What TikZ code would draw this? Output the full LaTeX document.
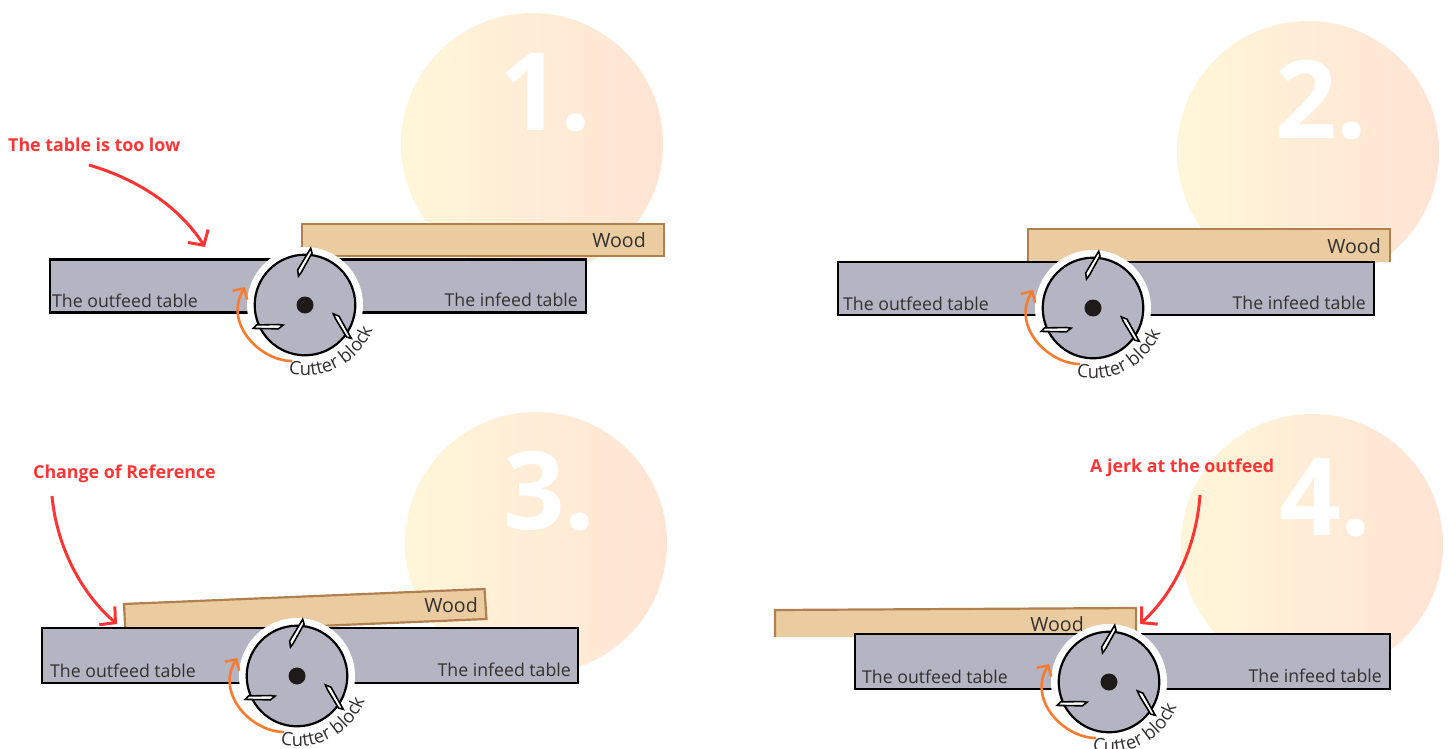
\documentclass[tikz,border=0pt]{standalone}
\usepackage{fontspec}
\setmainfont{Open Sans}
\usetikzlibrary{arrows.meta,decorations.text}
\definecolor{tablefill}{HTML}{B5B4C3}
\definecolor{woodfill}{HTML}{EBCCA0}
\definecolor{woodedge}{HTML}{B27F51}
\definecolor{alertred}{HTML}{FF3535}
\definecolor{rotorange}{HTML}{F97B2E}
\definecolor{inktext}{HTML}{333030}
\definecolor{hubdark}{HTML}{1E1A18}
\definecolor{glowa}{HTML}{FFF6D9}
\definecolor{glowb}{HTML}{FFE4D4}
\tikzset{
  x=1pt,y=-1pt,
  glow/.style={left color=glowa,right color=glowb,draw=none},
  numeral/.style={text=white,font=\fontsize{108}{108}\selectfont\bfseries,inner sep=0,anchor=base west},
  tablebox/.style={fill=tablefill,draw=black,line width=2.8pt},
  woodfillonly/.style={fill=woodfill,draw=none},
  woodline/.style={draw=woodedge,line width=2.2pt,line join=miter},
  tablelabel/.style={text=inktext,font=\fontsize{17.7}{17.7}\selectfont,inner sep=0},
  woodlabel/.style={text=inktext,font=\fontsize{19.6}{19.6}\selectfont,inner sep=0,anchor=base east},
  alertlabel/.style={text=alertred,font=\fontsize{17.8}{17.8}\selectfont\bfseries,inner sep=0},
  alertarrow/.style={draw=alertred,line width=3pt,-{Straight Barb[length=11pt,width=24pt,line width=3pt]}},
  rotarrow/.style={draw=rotorange,line width=2.6pt,-{Straight Barb[length=8pt,width=17pt,line width=2.4pt]}},
  bladeshape/.style={fill=white,draw=black,line width=1.6pt,line join=miter},
}
\newcommand{\cutterblock}[3]{%
  \begin{scope}[shift={(#2,#3)}]
    \fill[white] (0,0) circle[radius=58];
    \draw[fill=tablefill,draw=black,line width=2.2pt] (0,0) circle[radius=50.3];
    \fill[hubdark] (0,0) circle[radius=8.5];
    \foreach \r in {0,120,240}{
      \draw[bladeshape,rotate=\r] (5.7,-56.7) -- (7,-52) -- (-3.5,-33) -- (-6.5,-29) -- (-7.3,-35) -- cycle;
    }
    \coordinate (#1rs) at (-13,56);
    \coordinate (#1re) at (-60,-18);
    \draw[rotarrow] (#1rs) .. controls (-45,56) and (-82,18) .. (#1re);
    \path[decorate,decoration={text along path,text align=left,
        text={|\fontsize{18.4}{18.4}\selectfont\color{inktext}|Cutter block}}]
      (-16.6,68.5) .. controls (20.9,77.1) and (57.3,56.2) .. (69,20.5);
  \end{scope}}
\begin{document}
\begin{tikzpicture}
\useasboundingbox (0,0) rectangle (1451,749);
\fill[white] (0,0) rectangle (1451,749);
% glow discs
\shade[glow] (532,144) circle[radius=131];
\shade[glow] (1308,152) circle[radius=131];
\shade[glow] (536,543) circle[radius=131];
\shade[glow] (1312,545) circle[radius=131];
\node[numeral] (n1) at (499,131) {1.};
\node[numeral] (n2) at (1275,139) {2.};
\node[numeral] (n3) at (503,529) {3.};
\node[numeral] (n4) at (1279,535) {4.};
% panel 1
\filldraw[woodline,fill=woodfill] (302,224) rectangle (664,256);
\draw[tablebox] (50,259.5) rectangle (586,312.5);
\cutterblock{c1}{305}{305}
\node[woodlabel] (w1) at (646,247) {Wood};
\node[tablelabel,anchor=base west] (o1) at (52,307) {The outfeed table};
\node[tablelabel,anchor=base east] (i1) at (578,306) {The infeed table};
\node[alertlabel,anchor=base west] (a1) at (8,151) {The table is too low};
\coordinate (a1s) at (89,165);
\coordinate (a1e) at (205,247);
\draw[alertarrow] (a1s) .. controls (140,180) and (180,208) .. (a1e);
% panel 2
\fill[woodfillonly] (1028,229) rectangle (1390,262);
\draw[woodline] (1028,262) -- (1028,229) -- (1390,229) -- (1390,262);
\draw[tablebox] (838,262) rectangle (1374,315);
\cutterblock{c2}{1093}{308}
\node[woodlabel] (w2) at (1381,253) {Wood};
\node[tablelabel,anchor=base west] (o2) at (843,310) {The outfeed table};
\node[tablelabel,anchor=base east] (i2) at (1366,309) {The infeed table};
% panel 3
\filldraw[woodline,fill=woodfill] (124,604) -- (484.5,589) -- (486.5,619) -- (125.5,634) -- cycle;
\draw[tablebox] (42,628) rectangle (578,683);
\cutterblock{c3}{297}{676}
\node[woodlabel] (w3) at (478,612) {Wood};
\node[tablelabel,anchor=base west] (o3) at (50,677) {The outfeed table};
\node[tablelabel,anchor=base east] (i3) at (571,676) {The infeed table};
\node[alertlabel,anchor=base west] (a3) at (33,478) {Change of Reference};
\coordinate (a3s) at (52,496);
\coordinate (a3e) at (117,624);
\draw[alertarrow] (a3s) .. controls (57,550) and (84,596) .. (a3e);
% panel 4
\fill[woodfillonly] (775,610) -- (1136,608) -- (1136,637) -- (775,637) -- cycle;
\draw[woodline] (775,637) -- (775,610) -- (1136,608) -- (1136,637);
\draw[tablebox] (855,634) rectangle (1390,689);
\cutterblock{c4}{1109}{682}
\node[woodlabel] (w4) at (1084,631) {Wood};
\node[tablelabel,anchor=base west] (o4) at (862,683) {The outfeed table};
\node[tablelabel,anchor=base east] (i4) at (1382,682) {The infeed table};
\node[alertlabel,anchor=base west] (a4) at (1090,472) {A jerk at the outfeed};
\coordinate (a4s) at (1200,495);
\coordinate (a4e) at (1140,624);
\draw[alertarrow] (a4s) .. controls (1196,550) and (1172,595) .. (a4e);
\end{tikzpicture}
\end{document}
